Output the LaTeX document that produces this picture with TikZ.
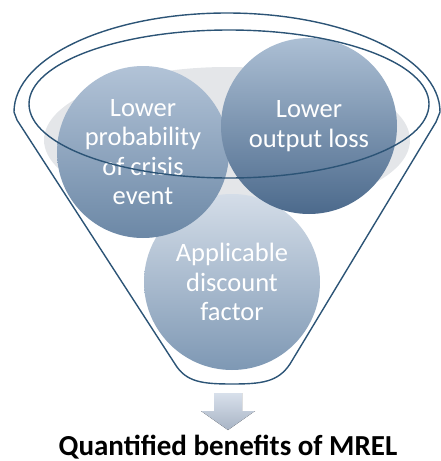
\documentclass[tikz,border=0pt]{standalone}
\usepackage{fontspec}
\setmainfont{Carlito}
\usetikzlibrary{calc, positioning}

\definecolor{funnelline}{RGB}{44,84,118}
\definecolor{backgray}{RGB}{228,230,233}

\begin{document}
\begin{tikzpicture}[x=1pt, y=-1pt,
    bubble/.style={circle, minimum size=176pt, inner sep=0pt, align=center,
      text=white, font=\fontsize{26.5}{29.5}\selectfont},
    rim/.style={draw=funnelline, line width=1.4pt}]
      \useasboundingbox (0,0) rectangle (440,461);

      % --- Positions ---
      \coordinate (top) at (229,104);
      \coordinate (spout) at (228,393);

      % --- Grey inside of the funnel ---
      \fill[backgray] (227,140) ellipse [x radius=183, y radius=73];

      % --- Bubbles ---
      \node[bubble, top color={rgb,255:red,212;green,221;blue,232},
        bottom color={rgb,255:red,126;green,152;blue,180}] (disc) at (232,282)
        {Applicable\\discount\\factor};
      \node[bubble, minimum size=172pt, top color={rgb,255:red,178;green,195;blue,215},
        bottom color={rgb,255:red,108;green,136;blue,166}] (crisis) at (143,152)
        {Lower\\probability\\of crisis\\event};
      \node[bubble, top color={rgb,255:red,172;green,191;blue,212},
        bottom color={rgb,255:red,76;green,106;blue,140}] (loss) at (309,126)
        {Lower\\output loss};

      % --- Funnel outline ---
      \draw[rim] (14,112) arc[start angle=180, end angle=360, x radius=213, y radius=99]
        -- (436,122) -- (290,364) .. controls (278,382) and (262,384) .. (232,384)
        .. controls (202,384) and (186,382) .. (175,364) -- (17,120) -- cycle;
      \draw[rim] (top) ellipse [x radius=200, y radius=74];

      % --- Arrow and result ---
      \fill[top color={rgb,255:red,216;green,224;blue,235},
        bottom color={rgb,255:red,168;green,180;blue,197}]
        (spout) -- ++(14,0) -- ++(0,18) -- ++(13,0) -- (228,430)
        -- (201,411) -- ++(13,0) -- ++(0,-18) -- cycle;
      \node[anchor=base, inner sep=0pt, font=\fontsize{29}{33}\selectfont\bfseries]
        (result) at (228,455) {Quantified benefits of MREL};
\end{tikzpicture}
\end{document}
